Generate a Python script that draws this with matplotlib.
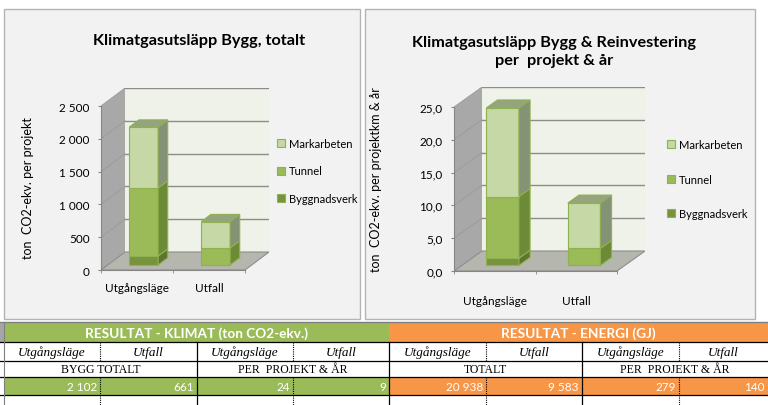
import numpy as np
import matplotlib
matplotlib.use('Agg')
import matplotlib.pyplot as plt
from matplotlib.patches import Rectangle, Polygon

plt.rcParams['font.family'] = ['Lato', 'DejaVu Sans']

categories = ['Utgångsläge', 'Utfall']
series_names = ['Byggnadsverk', 'Tunnel', 'Markarbeten']

# ton CO2-ekv. per projekt (left chart)
totalt_byggnadsverk = [137, 0]
totalt_tunnel = [1037, 260]
totalt_markarbeten = [928, 401]

# ton CO2-ekv. per projektkm & år (right chart)
per_ar_byggnadsverk = [1.1, 0.0]
per_ar_tunnel = [9.4, 2.6]
per_ar_markarbeten = [13.5, 6.9]

# table below the charts
klimat_totalt = [2102, 661]
klimat_per_ar = [24, 9]
energi_totalt = [20938, 9583]
energi_per_ar = [279, 140]

front_colors = ['#77933c', '#9bbb59', '#c6d8a6']
side_colors = ['#5d752e', '#6d8b36', '#849276']
top_color = '#95a37e'
edge_color = '#8fb250'
axis_color = '#868686'

W, H = 768, 406
fig = plt.figure(figsize=(W / 100, H / 100), dpi=100)


def px_rect(x0, y0, x1, y1):
    return [x0 / W, 1 - y1 / H, (x1 - x0) / W, (y1 - y0) / H]


def fx(x):
    return x / W


def fy(y):
    return 1 - y / H


bg = fig.add_axes([0, 0, 1, 1])
bg.set_xlim(0, W)
bg.set_ylim(H, 0)
bg.axis('off')

# chart panels
for x0, x1 in [(4, 360), (365, 755)]:
    bg.add_patch(Rectangle((x0, 10), x1 - x0, 310, facecolor='#f2f2f2',
                           edgecolor='#b4b4b4', lw=1))


def draw_chart(left, zero_y, front_w, front_h, dx, dy, ymax, step, fmt,
               stacks, label_pad):
    ax = fig.add_axes(px_rect(left, zero_y - front_h - dy, left + front_w + dx, zero_y))
    ax.patch.set_visible(False)
    ddx = 2 * dx / front_w
    ddy = ymax * dy / front_h
    ax.set_xlim(-0.5, 1.5 + ddx)
    ax.set_ylim(0, ymax + ddy)

    # back wall, side wall, floor
    ax.add_patch(Rectangle((-0.5 + ddx, ddy), 2, ymax, facecolor='#eef2e8',
                           edgecolor='none', zorder=0))
    ax.add_patch(Polygon([(-0.5, 0), (-0.5, ymax), (-0.5 + ddx, ymax + ddy),
                          (-0.5 + ddx, ddy)], closed=True, facecolor='#a8a8a8',
                         edgecolor='none', zorder=0))
    ax.add_patch(Polygon([(-0.5, 0), (1.5, 0), (1.5 + ddx, ddy), (-0.5 + ddx, ddy)],
                         closed=True, facecolor='#b5b7ae', edgecolor='#8c8c8c',
                         lw=0.8, zorder=0.5))
    ticks = np.arange(0, ymax + step / 2, step)
    for t in ticks[1:]:
        ax.plot([-0.5 + ddx, 1.5 + ddx], [t + ddy, t + ddy], color='#8c8c8c',
                lw=1, zorder=0.6)
        ax.plot([-0.5, -0.5 + ddx], [t, t + ddy], color='#9a9a9a', lw=0.6, zorder=0.6)

    # stacked bars with a bit of depth
    x = np.arange(len(categories))
    f0, fd, width = 0.28, 0.4, 0.4
    bottom = np.zeros(len(categories))
    for k, vals in enumerate(stacks):
        vals = np.asarray(vals, dtype=float)
        bars = ax.bar(x + f0 * ddx, vals, width, bottom=bottom + f0 * ddy,
                      color=front_colors[k], edgecolor=edge_color, lw=0.8,
                      label=series_names[k], zorder=3)
        for rect, v in zip(bars, vals):
            if v <= 0:
                continue
            x1 = rect.get_x() + rect.get_width()
            y0 = rect.get_y()
            y1 = y0 + rect.get_height()
            ax.add_patch(Polygon([(x1, y0), (x1 + fd * ddx, y0 + fd * ddy),
                                  (x1 + fd * ddx, y1 + fd * ddy), (x1, y1)],
                                 closed=True, facecolor=side_colors[k],
                                 edgecolor=edge_color, lw=0.8, zorder=3))
        bottom = bottom + vals
    for i in range(len(categories)):
        x0 = x[i] + f0 * ddx - width / 2
        top = bottom[i] + f0 * ddy
        ax.add_patch(Polygon([(x0, top), (x0 + width, top),
                              (x0 + width + fd * ddx, top + fd * ddy),
                              (x0 + fd * ddx, top + fd * ddy)], closed=True,
                             facecolor=top_color, edgecolor=edge_color, lw=0.8,
                             zorder=3))

    for s in ['top', 'right']:
        ax.spines[s].set_visible(False)
    ax.spines['left'].set_bounds(0, ymax)
    ax.spines['bottom'].set_bounds(-0.5, 1.5)
    for s in ['left', 'bottom']:
        ax.spines[s].set_color(axis_color)
    ax.set_yticks(ticks)
    ax.set_yticklabels([fmt(t) for t in ticks])
    ax.set_xticks(x)
    ax.set_xticklabels(categories)
    ax.set_xticks([-0.5, 0.5, 1.5], minor=True)
    ax.tick_params(axis='x', which='major', length=0, pad=label_pad, labelsize=8.5)
    ax.tick_params(axis='x', which='minor', length=2.5, color=axis_color)
    ax.tick_params(axis='y', length=2.2, color=axis_color, labelsize=8.5, pad=6)
    return ax


ax1 = draw_chart(101, 271, 144, 164, 24, 18, 2500, 500,
                 lambda t: f'{int(t):,}'.replace(',', ' '),
                 [totalt_byggnadsverk, totalt_tunnel, totalt_markarbeten], 9)
ax2 = draw_chart(454, 272, 163, 164, 28, 20, 25, 5,
                 lambda t: f'{t:.1f}'.replace('.', ','),
                 [per_ar_byggnadsverk, per_ar_tunnel, per_ar_markarbeten], 17)

for ax, lx, ly, lsp in [(ax1, 277, 172, 1.5), (ax2, 667, 180, 2.1)]:
    h, l = ax.get_legend_handles_labels()
    fig.legend(h[::-1], l[::-1], loc='center left', bbox_to_anchor=(fx(lx), fy(ly)),
               frameon=False, fontsize=8, handlelength=0.7, handleheight=0.7,
               handletextpad=0.4, labelspacing=lsp, borderpad=0, borderaxespad=0)

fig.text(fx(199), fy(41), 'Klimatgasutsläpp Bygg, totalt', ha='center', va='center',
         fontsize=11.7, fontweight='bold')
fig.text(fx(554), fy(52), 'Klimatgasutsläpp Bygg & Reinvestering\nper  projekt & år',
         ha='center', va='center', fontsize=11.7, fontweight='bold', linespacing=1.3)
fig.text(fx(28), fy(188), 'ton  CO2-ekv. per projekt', rotation=90, ha='center',
         va='center', fontsize=9)
fig.text(fx(376), fy(180), 'ton  CO2-ekv. per projektkm & år', rotation=90,
         ha='center', va='center', fontsize=9)

# ---- result table ----
green, orange = '#9bbb59', '#f79646'
cols = [4, 100, 197, 293, 389, 486, 582, 679, 768]
r_head, r_ital, r_caps, r_val, r_end = 323, 343, 362, 378, 396

bg.add_patch(Rectangle((0, r_head), 4, r_ital - r_head, facecolor='#a6a6a6', lw=0))
bg.add_patch(Rectangle((cols[0], r_head), cols[4] - cols[0], r_ital - r_head,
                       facecolor=green, lw=0))
bg.add_patch(Rectangle((cols[4], r_head), cols[8] - cols[4], r_ital - r_head,
                       facecolor=orange, lw=0))
bg.text((cols[0] + cols[4]) / 2, (r_head + r_ital) / 2 + 0.5,
        'RESULTAT - KLIMAT (ton CO2-ekv.)', ha='center', va='center',
        color='white', fontsize=9.8, fontweight='bold')
bg.text((cols[4] + cols[8]) / 2, (r_head + r_ital) / 2 + 0.5,
        'RESULTAT - ENERGI (GJ)', ha='center', va='center',
        color='white', fontsize=9.8, fontweight='bold')

for i in range(8):
    bg.text((cols[i] + cols[i + 1]) / 2, (r_ital + r_caps) / 2 + 0.5,
            categories[i % 2], ha='center', va='center', fontsize=9.5,
            style='italic', family='Liberation Serif')

caps = ['BYGG TOTALT', 'PER  PROJEKT & ÅR', 'TOTALT', 'PER  PROJEKT & ÅR']
for j, txt in enumerate(caps):
    bg.text((cols[2 * j] + cols[2 * j + 2]) / 2, (r_caps + r_val) / 2 + 0.5, txt,
            ha='center', va='center', fontsize=8.5, family='Liberation Serif')

values = klimat_totalt + klimat_per_ar + energi_totalt + energi_per_ar
for i, v in enumerate(values):
    bg.add_patch(Rectangle((cols[i], r_val), cols[i + 1] - cols[i], r_end - r_val,
                           facecolor=green if i < 4 else orange, lw=0))
    bg.text(cols[i + 1] - 3, (r_val + r_end) / 2 + 0.5, f'{v:,}'.replace(',', ' '),
            ha='right', va='center', color='white', fontsize=8.5)

# grid lines of the table
bg.plot([0, W], [r_head, r_head], color='#7f7f7f', lw=1)
for y in [r_ital, r_caps, r_val, r_end]:
    bg.plot([0, W], [y, y], color='black', lw=0.9)
for c in [cols[2], cols[4], cols[6]]:
    bg.plot([c, c], [r_ital, H], color='black', lw=0.9)
for c in [cols[1], cols[3], cols[5], cols[7]]:
    bg.plot([c, c], [r_ital, r_caps], color='black', lw=0.8, ls=(0, (1, 1)))
    bg.plot([c, c], [r_val, H], color='black', lw=0.8, ls=(0, (1, 1)))
bg.plot([4, 4], [r_head, H], color='#7f7f7f', lw=0.8)

fig.savefig('out.png', dpi=100, facecolor='white')
